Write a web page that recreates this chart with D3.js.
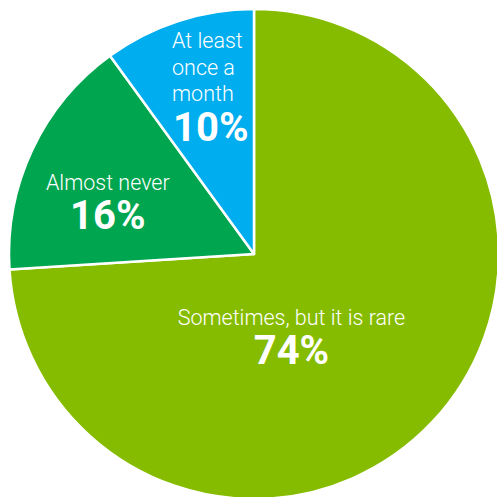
<!DOCTYPE html>
<html><head><meta charset="utf-8">
<script src="https://cdn.jsdelivr.net/npm/d3@7"></script>
<style>html,body{margin:0;padding:0;background:#fff;}svg{display:block;}</style>
</head><body>
<script>
const categories = ["Sometimes, but it is rare", "Almost never", "At least once a month"];
const labelLines = [["Sometimes, but it is rare"], ["Almost never"], ["At least", "once a", "month"]];
const values = [74, 16, 10];
const colors = ["#86BC00", "#00A550", "#00ADEF"];

const W = 497, H = 497;
const cx = 254, cy = 254, R = 245;

const svg = d3.select("body").append("svg").attr("width", W).attr("height", H);
const g = svg.append("g").attr("transform", `translate(${cx},${cy})`);

const pie = d3.pie().sort(null).value(d => d.v);
const data = values.map((v, i) => ({v, name: categories[i], lines: labelLines[i], color: colors[i]}));
const arcs = pie(data);
const arc = d3.arc().innerRadius(0).outerRadius(R);

g.selectAll("path").data(arcs).enter().append("path")
  .attr("d", arc).attr("fill", d => d.data.color)
  .attr("stroke", "#fff").attr("stroke-width", 2.5).attr("stroke-linejoin", "round");

// label placement: radial fraction and nudges per slice (nudge to first-line baseline)
const labelR = [0.40, 0.655, 0.66];
const nudge = [[-34, 4], [-1, 4], [-32, -52]];
const anchor = ["middle", "middle", "start"];
const lineH = 26.5, pctGap = 39;

arcs.forEach((a, i) => {
  const c = d3.arc().innerRadius(R * labelR[i]).outerRadius(R * labelR[i]).centroid(a);
  const x = c[0] + nudge[i][0], y = c[1] + nudge[i][1];
  const lines = a.data.lines;
  const t = g.append("g");
  lines.forEach((ln, k) => {
    t.append("text").attr("x", x).attr("y", y + k * lineH)
      .attr("text-anchor", anchor[i])
      .attr("font-family", "Roboto").attr("font-weight", 300).attr("font-size", 21.5)
      .attr("fill", "#fff").text(ln);
  });
  t.append("text").attr("x", anchor[i] === "start" ? x + 1 : x)
    .attr("y", y + (lines.length - 1) * lineH + pctGap + (lines.length > 1 ? 1 : 0))
    .attr("text-anchor", anchor[i])
    .attr("font-family", "Roboto").attr("font-weight", 700).attr("font-size", 40)
    .attr("fill", "#fff").text(a.data.v + "%");
});
</script>
</body></html>
